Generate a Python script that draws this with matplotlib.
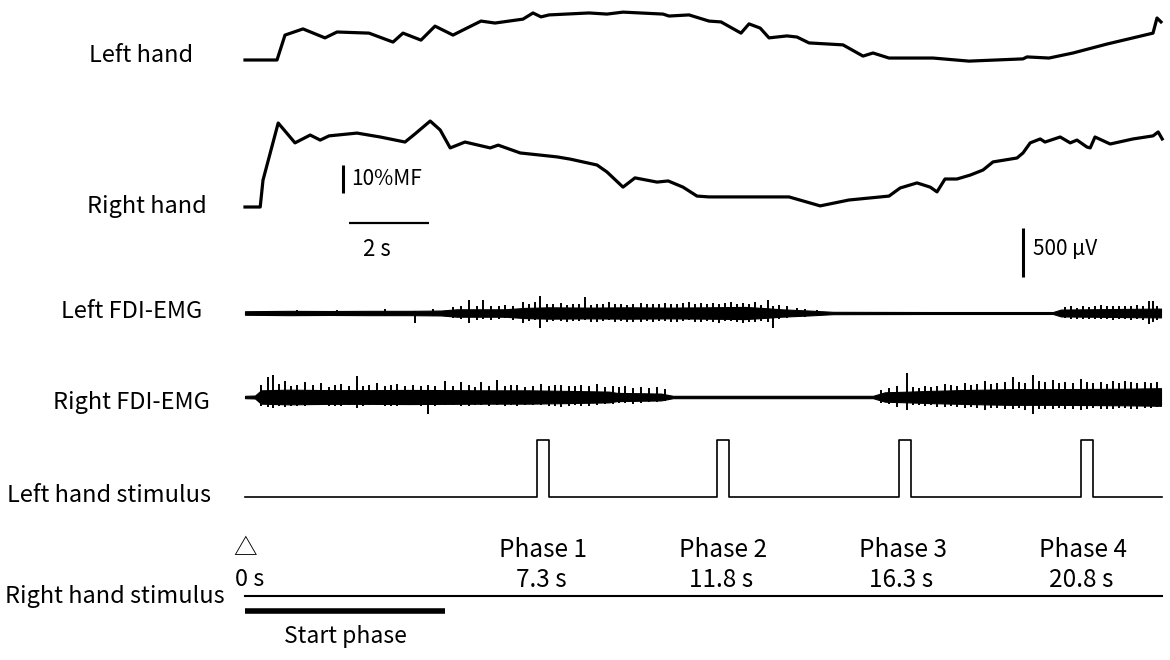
import matplotlib
matplotlib.use("Agg")
import matplotlib.pyplot as plt
import numpy as np

plt.rcParams['font.family'] = ['Noto Sans CJK JP', 'DejaVu Sans']

# force traces, time (s) and force (%MF above rest)
left_t = [-0.1, 0.7, 0.9, 1.35, 1.9, 2.2, 3.0, 3.6, 3.85, 4.3, 4.65, 5.1, 5.35, 5.8,
          6.15, 6.85, 7.1, 7.3, 7.5, 8.5, 8.95, 9.35, 10.35, 10.5, 11.0, 11.5, 11.8,
          12.3, 12.5, 12.78, 13.0, 13.45, 13.7, 14.0, 14.85, 15.35, 15.6, 16.0, 17.1,
          18.0, 19.35, 19.45, 20.0, 20.6, 21.45, 22.1, 22.6, 22.7, 22.8]
left_f = [0, 0, 8.9, 11.1, 7.9, 10.0, 9.6, 6.4, 9.6, 7.1, 12.1, 8.9, 10.7, 13.9,
          13.2, 14.6, 16.8, 15.4, 16.1, 16.8, 16.4, 17.1, 16.4, 15.7, 16.1, 13.9, 13.6,
          9.6, 12.9, 11.4, 7.9, 8.6, 8.2, 6.1, 5.4, 1.4, 2.5, 0.7, 0.7,
          -0.4, 0.4, 1.1, 0.7, 2.5, 5.7, 7.9, 9.6, 15.0, 13.6]

right_t = [-0.1, 0.28, 0.35, 0.73, 1.15, 1.53, 1.78, 2.0, 2.7, 3.28, 3.9, 4.15, 4.53,
           4.78, 5.03, 5.4, 6.03, 6.23, 6.78, 7.7, 8.03, 8.7, 8.95, 9.35, 9.65, 10.2,
           10.48, 10.85, 11.2, 11.5, 12.5, 13.5, 14.28, 15.0, 16.0, 16.28, 16.7, 17.03,
           17.2, 17.4, 17.7, 18.03, 18.35, 18.6, 19.2, 19.35, 19.53, 19.78, 19.9, 20.28,
           20.53, 20.7, 20.95, 21.03, 21.15, 21.53, 22.1, 22.6, 22.73, 22.83]
right_f = [0, 0, 9.6, 30.0, 22.9, 25.7, 23.9, 25.4, 26.4, 25.0, 23.2, 26.1, 30.7,
           27.5, 21.1, 23.2, 21.1, 22.1, 19.3, 17.9, 17.1, 15.0, 12.5, 7.1, 10.4, 8.9,
           9.3, 7.1, 3.9, 3.6, 3.6, 3.6, 0.4, 2.5, 3.9, 6.8, 8.6, 7.1,
           5.4, 10.0, 10.0, 11.4, 13.2, 16.1, 17.5, 19.3, 22.9, 24.3, 23.2, 25.0,
           22.9, 23.9, 21.4, 21.1, 25.0, 22.5, 24.3, 25.4, 26.8, 24.3]

# EMG envelopes (half amplitude, uV)
lemg_t = [-0.1, 1.0, 2.0, 3.0, 4.0, 4.8, 5.2, 6.4, 6.9, 7.5, 8.5, 9.5, 10.5, 11.5,
          12.4, 12.9, 13.3, 14.0, 14.6, 17.0, 20.1, 20.3, 21.5, 22.8]
lemg_a = [18, 22, 20, 22, 22, 25, 38, 38, 52, 58, 55, 58, 55, 58,
          62, 50, 38, 25, 12, 10, 10, 35, 40, 45]
remg_t = [-0.1, 0.15, 0.3, 1.0, 2.0, 3.0, 4.0, 5.0, 6.0, 7.0, 8.0, 9.0, 9.2, 10.3,
          10.6, 15.6, 15.9, 16.5, 17.0, 18.0, 19.0, 20.0, 21.0, 22.0, 22.8]
remg_a = [12, 15, 68, 75, 70, 70, 72, 70, 68, 68, 62, 55, 42, 35,
          12, 12, 48, 55, 62, 72, 80, 80, 82, 85, 90]

# EMG spikes (t, up uV, down uV)
lemg_spk = [(1.2, 35, 30), (2.2, 35, 25), (3.4, 40, 30), (4.15, 20, 100), (4.6, 45, 35),
            (5.1, 60, 55), (5.3, 70, 65), (5.5, 130, 100), (5.7, 70, 70), (5.85, 130, 60),
            (6.05, 70, 70), (6.25, 75, 65), (6.4, 80, 55), (6.6, 70, 70), (6.85, 110, 100),
            (7.0, 90, 85), (7.15, 110, 75), (7.28, 170, 150), (7.45, 90, 90), (7.6, 95, 85),
            (7.8, 100, 85), (7.95, 85, 95), (8.1, 90, 85), (8.25, 95, 80), (8.4, 160, 75),
            (8.55, 85, 90), (8.7, 90, 95), (8.85, 95, 85), (9.0, 110, 75), (9.15, 90, 90),
            (9.3, 95, 85), (9.45, 85, 95), (9.6, 95, 90), (9.8, 100, 95), (9.95, 90, 85),
            (10.1, 95, 90), (10.25, 90, 85), (10.4, 100, 85), (10.55, 95, 95), (10.7, 90, 90),
            (10.85, 100, 85), (11.0, 110, 75), (11.15, 95, 90), (11.3, 100, 95), (11.45, 95, 85),
            (11.6, 100, 95), (11.75, 95, 100), (11.9, 100, 85), (12.05, 110, 85), (12.2, 95, 95),
            (12.35, 100, 100), (12.5, 90, 95), (12.65, 110, 95), (12.8, 85, 85), (12.98, 130, 95),
            (13.1, 70, 150), (13.25, 80, 60), (13.45, 70, 55), (13.7, 50, 45), (13.9, 45, 40),
            (14.2, 30, 25), (20.4, 60, 50), (20.55, 70, 60), (20.7, 55, 60), (20.85, 70, 65),
            (21.0, 65, 60), (21.15, 75, 60), (21.3, 80, 60), (21.45, 70, 65), (21.6, 75, 70),
            (21.75, 70, 65), (21.9, 75, 60), (22.05, 70, 70), (22.2, 80, 65), (22.35, 75, 70),
            (22.5, 120, 110), (22.6, 120, 90), (22.7, 70, 70)]
remg_spk = [(0.3, 120, 90), (0.48, 200, 100), (0.6, 220, 110), (0.75, 130, 90), (0.9, 160, 100),
            (1.05, 110, 95), (1.2, 120, 90), (1.4, 150, 90), (1.6, 120, 85), (1.8, 140, 80),
            (2.0, 100, 90), (2.15, 120, 95), (2.3, 130, 90), (2.5, 110, 85), (2.7, 210, 110),
            (2.85, 110, 90), (3.0, 120, 85), (3.2, 140, 80), (3.4, 110, 90), (3.55, 125, 95),
            (3.7, 130, 90), (3.9, 110, 85), (4.1, 120, 80), (4.3, 115, 95), (4.48, 120, 170),
            (4.65, 110, 90), (4.9, 160, 80), (5.1, 110, 85), (5.3, 150, 90), (5.5, 120, 95),
            (5.65, 105, 85), (5.8, 150, 80), (6.0, 110, 90), (6.2, 170, 80), (6.4, 115, 90),
            (6.55, 120, 85), (6.7, 120, 90), (6.9, 105, 80), (7.1, 115, 85), (7.3, 130, 80),
            (7.5, 110, 90), (7.65, 120, 95), (7.8, 120, 100), (8.0, 110, 90), (8.15, 115, 85),
            (8.3, 120, 90), (8.5, 110, 95), (8.7, 130, 80), (8.9, 105, 70), (9.1, 110, 75),
            (9.25, 100, 65), (9.4, 110, 65), (9.6, 95, 70), (9.8, 100, 65), (10.0, 90, 55),
            (10.2, 100, 50), (10.4, 80, 45),
            (15.8, 70, 60), (16.0, 90, 75), (16.2, 110, 100), (16.45, 240, 130), (16.6, 100, 85),
            (16.75, 95, 80), (16.9, 110, 95), (17.05, 100, 85), (17.2, 115, 100), (17.4, 130, 105),
            (17.55, 120, 95), (17.7, 115, 100), (17.9, 140, 115), (18.05, 125, 105), (18.2, 130, 110),
            (18.4, 160, 130), (18.55, 130, 115), (18.7, 140, 110), (18.9, 150, 125), (19.1, 200, 125),
            (19.25, 150, 115), (19.4, 140, 130), (19.6, 220, 170), (19.75, 160, 125), (19.9, 150, 120),
            (20.1, 170, 125), (20.25, 140, 115), (20.4, 150, 120), (20.6, 145, 125), (20.8, 180, 135),
            (20.95, 150, 120), (21.1, 140, 115), (21.3, 150, 125), (21.45, 135, 120), (21.6, 160, 125),
            (21.75, 145, 115), (21.9, 160, 115), (22.05, 150, 120), (22.2, 145, 125), (22.4, 150, 115),
            (22.55, 140, 110), (22.7, 150, 105)]

# stimulus pulses (onset s) and phase labels
stim_on = [7.2, 11.7, 16.25, 20.8]
stim_w = 0.3
phase_names = ['Phase 1', 'Phase 2', 'Phase 3', 'Phase 4']
phase_times = [7.3, 11.8, 16.3, 20.8]
t_start, t_end = -0.1, 22.83
start_phase = 4.9

# layout: x in seconds, y in pixel rows (inverted)
fig = plt.figure(figsize=(11.7, 6.6), dpi=100)
ax = fig.add_axes([0, 0, 1, 1])
ax.set_xlim(-249 / 40, (1170 - 249) / 40)
ax.set_ylim(660, 0)
ax.axis('off')

px_mf = 2.8      # px per %MF
px_uv = 0.098    # px per uV

ax.plot(left_t, 60 - np.array(left_f) * px_mf, color='black', lw=2.3)
ax.plot(right_t, 207 - np.array(right_f) * px_mf, color='black', lw=2.3)

def emg(base, t, a, spikes):
    a = np.array(a) * px_uv
    ax.fill_between(t, base - a, base + a, color='black', lw=0.8)
    for st, up, dn in spikes:
        ax.vlines(st, base - up * px_uv, base + dn * px_uv, color='black', lw=1.4)

emg(313, lemg_t, lemg_a, lemg_spk)
emg(397, remg_t, remg_a, remg_spk)

# left hand stimulus trace
sx = [t_start]
sy = [497]
for on in stim_on:
    sx += [on, on, on + stim_w, on + stim_w]
    sy += [497, 440, 440, 497]
sx.append(t_end)
sy.append(497)
ax.plot(sx, sy, color='black', lw=1.2)

# right hand stimulus and start phase bar
ax.plot([t_start, t_end], [596, 596], color='black', lw=1.5)
ax.plot([t_start, start_phase], [611, 611], color='black', lw=4, solid_capstyle='butt')

# scale bars
ax.plot([2.35, 2.35], [165, 193], color='black', lw=2.2, solid_capstyle='butt')
ax.plot([2.5, 4.5], [223, 223], color='black', lw=1.6, solid_capstyle='butt')
ax.plot([19.35, 19.35], [228, 277], color='black', lw=2.2, solid_capstyle='butt')

ax.text(2.55, 179, '10%MF', fontsize=15, va='center', ha='left')
ax.text(3.2, 249, '2 s', fontsize=16, va='center', ha='center')
ax.text(19.6, 249, '500 µV', fontsize=15, va='center', ha='left')

# row labels, centred on their position in the reference
rows = [('Left hand', 141, 55), ('Right hand', 147, 207), ('Left FDI-EMG', 132, 312),
        ('Right FDI-EMG', 131, 402), ('Left hand stimulus', 109, 495),
        ('Right hand stimulus', 115, 596)]
for name, xp, yp in rows:
    ax.text((xp - 249) / 40, yp, name, fontsize=17, va='center', ha='center')

ax.text(-0.1, 549, '△', fontsize=17, va='center', ha='center')
ax.text(-0.35, 580, '0 s', fontsize=17, va='center', ha='left')
for name, pt in zip(phase_names, phase_times):
    ax.text(pt + 0.05, 550, name, fontsize=17.5, va='center', ha='center')
    ax.text(pt, 580, f'{pt} s', fontsize=17.5, va='center', ha='center')
ax.text(2.4, 636, 'Start phase', fontsize=16.5, va='center', ha='center')

fig.savefig('out.png', dpi=100)
